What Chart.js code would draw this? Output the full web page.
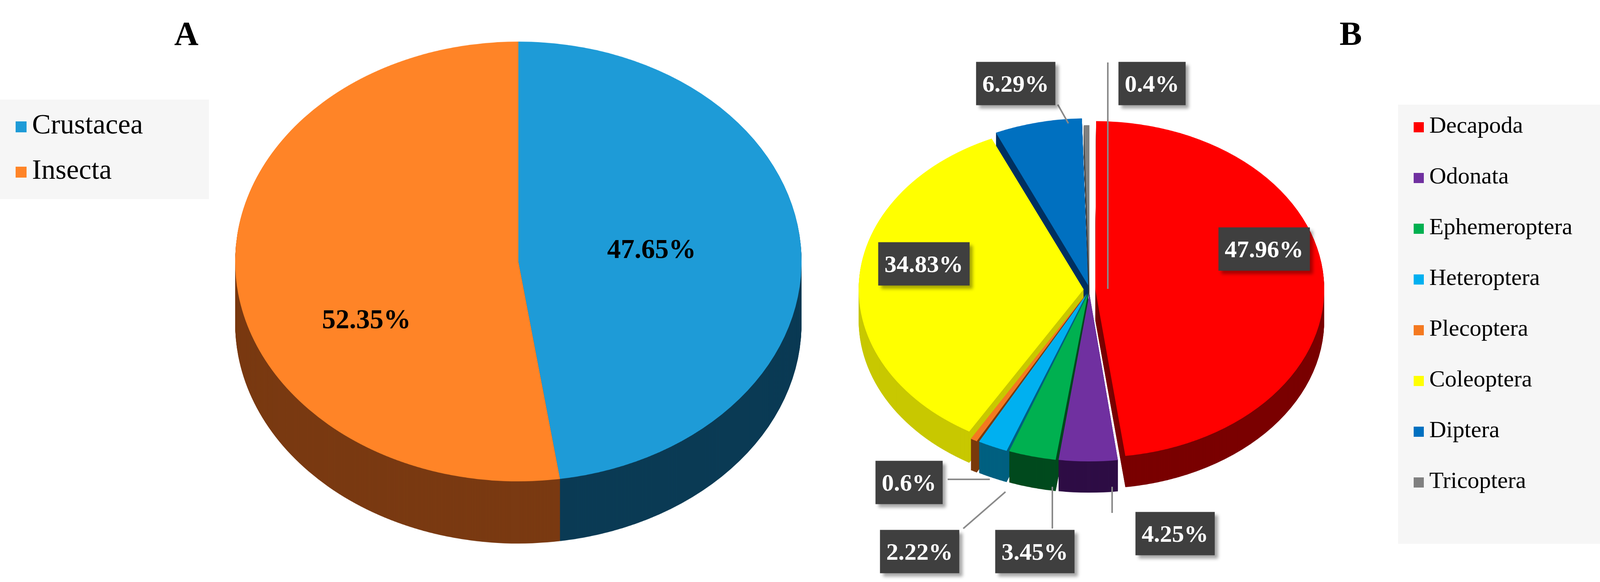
<!DOCTYPE html>
<html>
<head>
<meta charset="utf-8">
<script src="https://cdn.jsdelivr.net/npm/chart.js@4/dist/chart.umd.min.js"></script>
<style>
  body { margin: 0; width: 4204px; height: 1491px; background: #fff; position: relative; overflow: hidden;
         font-family: "Liberation Serif", "Times New Roman", serif; }
  .abs { position: absolute; }
  canvas { position: absolute; }
  .title { position: absolute; font-weight: bold; font-size: 86px; transform: translate(-50%, -50%); }
  .legend { position: absolute; background: #f6f6f6; }
  .item { position: absolute; left: 40px; white-space: nowrap; }
  .item span { display: inline-block; vertical-align: middle; margin-right: 14px; }
  .tag { position: absolute; transform: translate(-50%, -50%); background: #3f3f3f; color: #fff;
         font-weight: bold; font-size: 62px; padding: 20px 16px; box-shadow: 8px 8px 8px rgba(0,0,0,0.35); }
  .inlbl { position: absolute; transform: translate(-50%, -50%); font-weight: bold; font-size: 70px; color: #000; }
</style>
</head>
<body>
<div class="title" style="left:477px; top:86px;">A</div>
<div class="title" style="left:3458px; top:86px;">B</div>

<canvas id="pieA" style="left:577px; top:91px; transform-origin: 0 0; transform: scaleY(0.777);"></canvas>
<canvas id="pieB" style="left:2139px; top:264px; transform-origin: 0 0; transform: scaleY(0.735);"></canvas>

<div id="legendA" class="legend" style="left:0; top:255px; width:535px; height:255px;"></div>
<div id="legendB" class="legend" style="left:3579px; top:268px; width:604px; height:1125px;"></div>

<svg class="abs" style="left:0; top:0;" width="4204" height="1491">
  <g stroke="#8a8a8a" stroke-width="4" fill="none">
    <polyline points="2836,160 2836,740" />
    <polyline points="2708,268 2735,316" />
    <polyline points="2426,1228 2534,1228" />
    <polyline points="2466,1354 2574,1260" />
    <polyline points="2694,1354 2694,1247" />
    <polyline points="2847,1314 2847,1247" />
  </g>
</svg>
<div id="labels"></div>

<script>
const categoriesA = ['Crustacea', 'Insecta'];
const valuesA = [47.65, 52.35];
const colorsA = ['#1E9BD7', '#FF8427'];
const sidesA = ['#0B3B55', '#7A3A12'];

const categoriesB = ['Decapoda', 'Odonata', 'Ephemeroptera', 'Heteroptera', 'Plecoptera', 'Coleoptera', 'Diptera', 'Tricoptera'];
const valuesB = [47.96, 4.25, 3.45, 2.22, 0.6, 34.83, 6.29, 0.4];
const colorsB = ['#FF0000', '#7030A0', '#00B050', '#00B0F0', '#F47920', '#FFFF00', '#0070C0', '#808080'];
const sidesB = ['#7A0000', '#2E0D45', '#004A1E', '#006080', '#7A3A0C', '#C8C800', '#003060', '#404040'];
const offsetsB = [60, 60, 60, 60, 60, 60, 60, 0];

// label boxes for B, placed around the pie (page coordinates)
const labelPosB = [[3236, 638], [3008, 1367], [2649, 1413], [2354, 1413], [2327, 1236], [2365, 676], [2600, 214], [2949, 214]];
const labelPosA = [[1668, 638], [938, 818]];

// draws the pie side wall by stamping darker arcs below the face
function depthPlugin(sides, depth) {
  return {
    id: 'depth',
    beforeDatasetsDraw(chart) {
      const ctx = chart.ctx;
      const arcs = chart.getDatasetMeta(0).data;
      for (let k = depth; k > 0; k -= 2) {
        arcs.forEach((arc, i) => {
          const old = arc.options.backgroundColor;
          ctx.save();
          ctx.translate(0, k);
          arc.options.backgroundColor = sides[i];
          arc.draw(ctx);
          arc.options.backgroundColor = old;
          ctx.restore();
        });
      }
    }
  };
}

function makePie(id, w, h, padding, labels, values, colors, sides, depth, offsets) {
  const canvas = document.getElementById(id);
  canvas.width = w; canvas.height = h;
  canvas.style.width = w + 'px'; canvas.style.height = h + 'px';
  return new Chart(canvas, {
    type: 'pie',
    data: {
      labels: labels,
      datasets: [{ data: values, backgroundColor: colors, borderWidth: 0, offset: offsets || 0 }]
    },
    options: {
      responsive: false,
      animation: false,
      devicePixelRatio: 1,
      layout: { padding: padding },
      plugins: { legend: { display: false }, tooltip: { enabled: false } }
    },
    plugins: [depthPlugin(sides, depth)]
  });
}

makePie('pieA', 1500, 1700, { left: 21, right: 21, top: 20, bottom: 230 }, categoriesA, valuesA, colorsA, sidesA, 205);
makePie('pieB', 1300, 1400, { left: 47, right: 47, top: 47, bottom: 147 }, categoriesB, valuesB, colorsB, sidesB, 109, offsetsB);

function buildLegend(el, labels, colors, top0, step, fontSize, marker) {
  labels.forEach((name, i) => {
    const d = document.createElement('div');
    d.className = 'item';
    d.style.top = (top0 + i * step) + 'px';
    d.style.fontSize = fontSize + 'px';
    d.innerHTML = `<span style="width:${marker}px;height:${marker}px;background:${colors[i]}"></span>${name}`;
    el.appendChild(d);
  });
}
buildLegend(document.getElementById('legendA'), categoriesA, colorsA, 22, 116, 72, 28);
buildLegend(document.getElementById('legendB'), categoriesB, colorsB, 18, 130, 60, 26);

const holder = document.getElementById('labels');
valuesB.forEach((v, i) => {
  const d = document.createElement('div');
  d.className = 'tag';
  d.style.left = labelPosB[i][0] + 'px';
  d.style.top = labelPosB[i][1] + 'px';
  d.textContent = v + '%';
  holder.appendChild(d);
});
valuesA.forEach((v, i) => {
  const d = document.createElement('div');
  d.className = 'inlbl';
  d.style.left = labelPosA[i][0] + 'px';
  d.style.top = labelPosA[i][1] + 'px';
  d.textContent = v.toFixed(2) + '%';
  holder.appendChild(d);
});
</script>
</body>
</html>
